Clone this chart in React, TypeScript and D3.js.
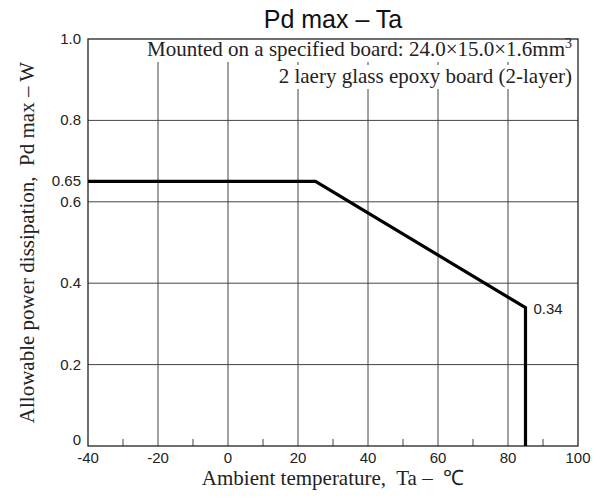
import React, { useEffect, useRef } from "react";
import * as d3 from "d3";

// derating curve
const tempPoints = [-40, 25, 85, 85];
const powerPoints = [0.65, 0.65, 0.34, 0];

const xTicks = [-40, -20, 0, 20, 40, 60, 80, 100];
const xMinorTicks = [-30, -10, 10, 30, 50, 70, 90];
const yGrid = [0.2, 0.4, 0.6, 0.8];
const yTickLabels = ["0", "0.2", "0.4", "0.6", "0.65", "0.8", "1.0"];
const yTickValues = [0, 0.2, 0.4, 0.6, 0.65, 0.8, 1.0];

const noteLines = ["Mounted on a specified board: 24.0×15.0×1.6mm", "2 laery glass epoxy board (2-layer)"];

function App() {
    const ref = useRef<SVGSVGElement>(null);

    useEffect(() => {
        const W = 604;
        const H = 501;
        const m = { left: 88, right: 26, top: 39, bottom: 55 };
        const svg = d3.select(ref.current).attr("width", W).attr("height", H).style("background", "#fff");
        svg.selectAll("*").remove();

        const x = d3.scaleLinear().domain([-40, 100]).range([m.left, W - m.right]);
        const y = d3.scaleLinear().domain([0, 1]).range([H - m.bottom, m.top]);

        const sans = "Liberation Sans, Arial, sans-serif";
        const serif = "Liberation Serif, Times New Roman, serif";

        // grid
        const g = svg.append("g");
        g.selectAll(".vg")
            .data(xTicks.slice(1, -1))
            .join("line")
            .attr("x1", d => x(d))
            .attr("x2", d => x(d))
            .attr("y1", y(0))
            .attr("y2", y(1))
            .attr("stroke", "#444")
            .attr("stroke-width", 1);
        g.selectAll(".hg")
            .data(yGrid)
            .join("line")
            .attr("x1", x(-40))
            .attr("x2", x(100))
            .attr("y1", d => y(d))
            .attr("y2", d => y(d))
            .attr("stroke", "#444")
            .attr("stroke-width", 1);

        // minor ticks on bottom axis
        g.selectAll(".mt")
            .data(xMinorTicks)
            .join("line")
            .attr("x1", d => x(d))
            .attr("x2", d => x(d))
            .attr("y1", y(0))
            .attr("y2", y(0) - 7)
            .attr("stroke", "#444");

        // note text with white background
        const note = svg.append("g");
        const noteX = x(100) - 6;
        noteLines.forEach((t, i) => {
            const bg = note.append("rect").attr("fill", "#fff");
            const txt = note
                .append("text")
                .attr("x", noteX)
                .attr("y", 56 + i * 27)
                .attr("text-anchor", "end")
                .attr("font-family", serif)
                .attr("font-size", 21)
                .attr("fill", "#222");
            if (i === 0) {
                txt.append("tspan").text(t);
                txt.append("tspan").attr("font-size", 14).attr("dy", -8).text("3");
            } else {
                txt.text(t);
            }
            const bb = (txt.node() as SVGTextElement).getBBox();
            bg.attr("x", bb.x - 4).attr("y", bb.y + 1).attr("width", bb.width + 8).attr("height", bb.height);
        });

        // frame
        svg.append("rect")
            .attr("x", x(-40))
            .attr("y", y(1))
            .attr("width", x(100) - x(-40))
            .attr("height", y(0) - y(1))
            .attr("fill", "none")
            .attr("stroke", "#222")
            .attr("stroke-width", 1.3);

        // curve
        const line = d3
            .line<number>()
            .x((d, i) => x(tempPoints[i]))
            .y(d => y(d));
        svg.append("path")
            .datum(powerPoints)
            .attr("d", line)
            .attr("fill", "none")
            .attr("stroke", "#000")
            .attr("stroke-width", 3.2)
            .attr("stroke-linejoin", "miter");

        // x tick labels
        svg.selectAll(".xl")
            .data(xTicks)
            .join("text")
            .attr("x", d => x(d))
            .attr("y", y(0) + 17)
            .attr("text-anchor", "middle")
            .attr("font-family", sans)
            .attr("font-size", 15)
            .attr("fill", "#222")
            .text(d => String(d));

        // y tick labels
        svg.selectAll(".yl")
            .data(yTickValues)
            .join("text")
            .attr("x", x(-40) - 7)
            .attr("y", d => (d === 0 ? y(d) - 1 : y(d) + 5))
            .attr("text-anchor", "end")
            .attr("font-family", sans)
            .attr("font-size", 15)
            .attr("fill", "#222")
            .text((d, i) => yTickLabels[i]);

        // end value label
        svg.append("text")
            .attr("x", x(tempPoints[2]) + 8)
            .attr("y", y(powerPoints[2]) + 6)
            .attr("font-family", sans)
            .attr("font-size", 15)
            .attr("fill", "#222")
            .text(String(powerPoints[2]));

        // title
        svg.append("text")
            .attr("x", (x(-40) + x(100)) / 2)
            .attr("y", 28)
            .attr("text-anchor", "middle")
            .attr("font-family", sans)
            .attr("font-size", 25)
            .attr("fill", "#111")
            .text("Pd max – Ta");

        // axis titles
        svg.append("text")
            .attr("x", (x(-40) + x(100)) / 2)
            .attr("y", 485)
            .attr("text-anchor", "middle")
            .attr("font-family", serif)
            .attr("font-size", 21)
            .attr("fill", "#222")
            .attr("xml:space", "preserve")
            .text("Ambient temperature,  Ta –  ℃");

        svg.append("text")
            .attr("transform", `translate(34, ${(y(0) + y(1)) / 2}) rotate(-90)`)
            .attr("text-anchor", "middle")
            .attr("font-family", serif)
            .attr("font-size", 21)
            .attr("fill", "#222")
            .attr("xml:space", "preserve")
            .text("Allowable power dissipation,  Pd max – W");
    }, []);

    return (
        <div style={{ margin: -8 }}>
            <svg ref={ref} style={{ display: "block" }} />
        </div>
    );
}

export default App;
